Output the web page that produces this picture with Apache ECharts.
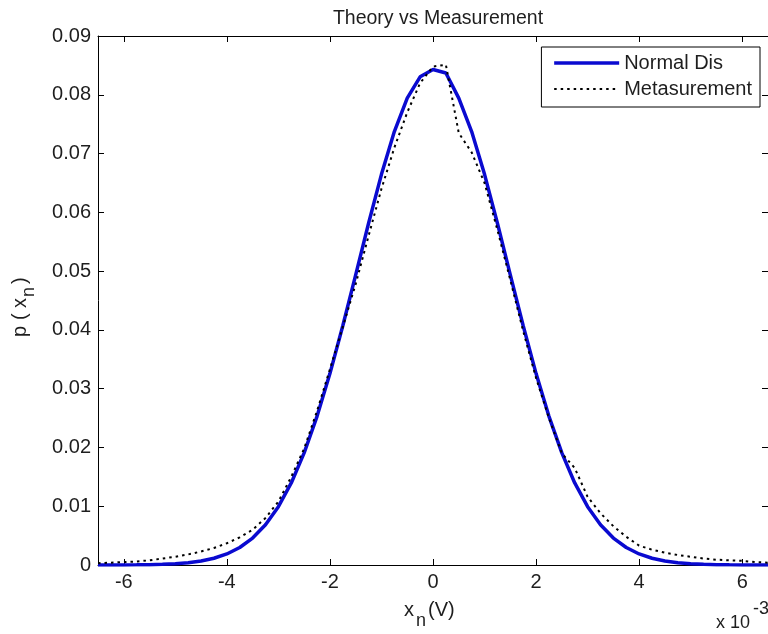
<!DOCTYPE html>
<html><head><meta charset="utf-8">
<script src="https://cdn.jsdelivr.net/npm/echarts@6/dist/echarts.min.js"></script>
<style>html,body{margin:0;padding:0;background:#fff}#c{width:768px;height:634px}</style>
</head><body><div id="c"></div>
<script>
const xValues = [-6.5,-6.25,-6,-5.75,-5.5,-5.25,-5,-4.75,-4.5,-4.25,-4,-3.75,-3.5,-3.25,-3,-2.75,-2.5,-2.25,-2,-1.75,-1.5,-1.25,-1,-0.75,-0.5,-0.25,0,0.25,0.5,0.75,1,1.25,1.5,1.75,2,2.25,2.5,2.75,3,3.25,3.5,3.75,4,4.25,4.5,4.75,5,5.25,5.5,5.75,6,6.25,6.5];
const normalDis = [0.0000,0.0000,0.00001,0.00003,0.00006,0.00012,0.00022,0.00039,0.00068,0.00115,0.00188,0.00298,0.00458,0.00684,0.00992,0.01396,0.01907,0.02529,0.03256,0.04070,0.04937,0.05814,0.06646,0.07375,0.07943,0.08306,0.0843,0.0837,0.07943,0.07375,0.06646,0.05814,0.04937,0.04070,0.03256,0.02529,0.01907,0.01396,0.00992,0.00684,0.00458,0.00298,0.00188,0.00115,0.00068,0.00039,0.00022,0.00012,0.00006,0.00003,0.00001,0.0000,0.0000];
const measurement = [0.0003,0.0004,0.0005,0.0006,0.0008,0.0011,0.0014,0.0018,0.0023,0.0029,0.0037,0.0047,0.0060,0.0080,0.0108,0.0150,0.0198,0.0262,0.0333,0.0405,0.0478,0.0560,0.0640,0.0710,0.0770,0.0820,0.0848,0.0851,0.0735,0.0702,0.0650,0.0570,0.0485,0.0398,0.0318,0.0250,0.0190,0.0165,0.0116,0.0088,0.0066,0.0048,0.0033,0.0026,0.0021,0.0017,0.0014,0.0011,0.0009,0.0008,0.0007,0.0005,0.0004];
const xTicks = [-6,-4,-2,0,2,4,6];
const titleText = 'Theory vs Measurement';

const FONT = '"Liberation Sans", Arial, sans-serif';
const TXT = '#1e1e1e';
const chart = echarts.init(document.getElementById('c'), null, {renderer:'canvas'});
const axisCommon = {
  axisLine:{show:true, onZero:false, lineStyle:{color:'#000', width:1}},
  splitLine:{show:false}
};
chart.setOption({
  backgroundColor:'#fff',
  animation:false,
  title:{text:titleText, left:433, top:4, textAlign:'center',
    textStyle:{fontFamily:FONT, fontSize:19.5, fontWeight:'normal', color:TXT}},
  grid:{left:98, top:36, right:0, bottom:69, containLabel:false},
  legend:{
    orient:'vertical', right:8, top:47,
    backgroundColor:'#fff', borderColor:'#000', borderWidth:1,
    padding:[6,8,8,11], itemGap:6, itemWidth:65, itemHeight:20,
    itemStyle:{opacity:0},
    lineStyle:{width:'inherit'},
    textStyle:{fontFamily:FONT, fontSize:20, color:TXT},
    data:[{name:'Normal Dis', lineStyle:{width:3.5}}, {name:'Metasurement', lineStyle:{width:2}}]
  },
  xAxis:[
    Object.assign({type:'value', min:-6.5, max:6.5, position:'bottom',
      axisTick:{show:true, inside:true, length:6, customValues:xTicks, lineStyle:{color:'#000'}},
      axisLabel:{show:true, customValues:xTicks, margin:7, fontFamily:FONT, fontSize:20, color:TXT}}, axisCommon),
    Object.assign({type:'value', min:-6.5, max:6.5, position:'top',
      axisTick:{show:true, inside:true, length:6, customValues:xTicks, lineStyle:{color:'#000'}},
      axisLabel:{show:false}}, axisCommon)
  ],
  yAxis:[
    Object.assign({type:'value', min:0, max:0.09, interval:0.01, position:'left',
      axisTick:{show:true, inside:true, length:6, lineStyle:{color:'#000'}},
      axisLabel:{margin:7, fontFamily:FONT, fontSize:20, color:TXT}}, axisCommon),
    Object.assign({type:'value', min:0, max:0.09, interval:0.01, position:'right',
      axisTick:{show:true, inside:true, length:6, lineStyle:{color:'#000'}},
      axisLabel:{show:false}}, axisCommon)
  ],
  series:[
    {name:'Normal Dis', type:'line', xAxisIndex:0, yAxisIndex:0, symbol:'none', z:3,
      lineStyle:{color:'#0a0ad0', width:3.5}, itemStyle:{color:'#0a0ad0'},
      data:xValues.map((x,i)=>[x, normalDis[i]])},
    {name:'Metasurement', type:'line', xAxisIndex:0, yAxisIndex:0, symbol:'none', z:4,
      lineStyle:{color:'#000', width:2, type:[2.5,4]}, itemStyle:{color:'#000'},
      data:xValues.map((x,i)=>[x, measurement[i]])}
  ],
  graphic:[
    {type:'text', x:404, y:610, style:{text:'x', font:'20px '+FONT, fill:TXT, verticalAlign:'middle'}},
    {type:'text', x:416, y:621, style:{text:'n', font:'18px '+FONT, fill:TXT, verticalAlign:'middle'}},
    {type:'text', x:428, y:610, style:{text:'(V)', font:'20px '+FONT, fill:TXT, verticalAlign:'middle'}},
    {type:'text', x:716, y:623, style:{text:'x 10', font:'18px '+FONT, fill:TXT, verticalAlign:'middle'}},
    {type:'text', x:753, y:609, style:{text:'-3', font:'18px '+FONT, fill:TXT, verticalAlign:'middle'}},
    {type:'group', x:20, y:306, rotation:Math.PI/2, children:[
      {type:'text', x:-31, y:0, style:{text:'p', font:'20px '+FONT, fill:TXT, verticalAlign:'middle'}},
      {type:'text', x:-14, y:0, style:{text:'(', font:'20px '+FONT, fill:TXT, verticalAlign:'middle'}},
      {type:'text', x:-2, y:0, style:{text:'x', font:'20px '+FONT, fill:TXT, verticalAlign:'middle'}},
      {type:'text', x:9, y:9, style:{text:'n', font:'18px '+FONT, fill:TXT, verticalAlign:'middle'}},
      {type:'text', x:22, y:0, style:{text:')', font:'20px '+FONT, fill:TXT, verticalAlign:'middle'}}
    ]}
  ]
});
</script></body></html>
